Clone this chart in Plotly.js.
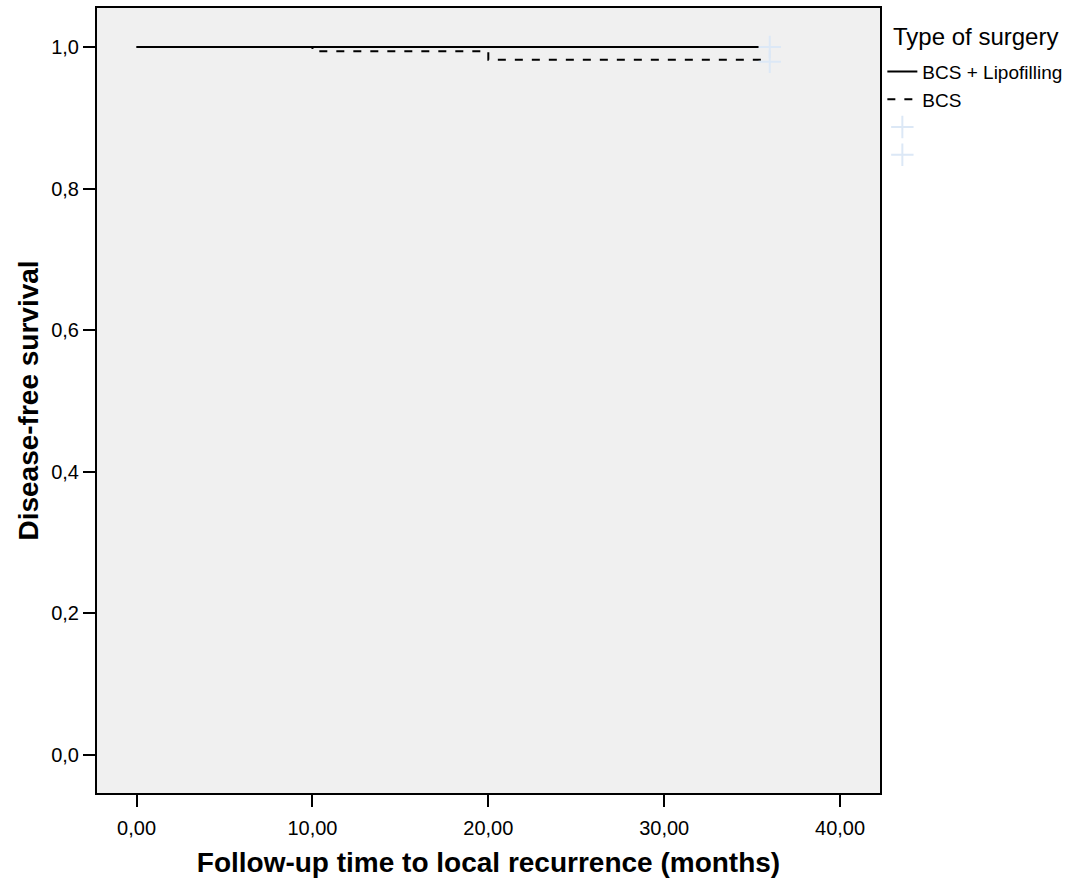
<!DOCTYPE html>
<html>
<head>
<meta charset="utf-8">
<script src="https://cdn.plot.ly/plotly-3.0.1.min.js"></script>
<style>html,body{margin:0;padding:0;background:#fff;}#chart{width:1089px;height:886px;}</style>
</head>
<body>
<div id="chart"></div>
<script>
// Kaplan-Meier data
var legendTitle = "Type of surgery";
var lipoName = "BCS + Lipofilling";
var lipoTime = [0, 35.6];
var lipoSurv = [1.0, 1.0];
var lipoCensorTime = [36.0];
var lipoCensorSurv = [1.0];

var bcsName = "BCS";
var bcsTime = [0, 10.0, 20.0, 36.0];
var bcsSurv = [1.0, 0.994, 0.982, 0.982];
var bcsCensorTime = [36.0];
var bcsCensorSurv = [0.979];

var xTicks = [0, 10, 20, 30, 40];
var yTicks = [0, 0.2, 0.4, 0.6, 0.8, 1.0];

var censorColor = '#dce8f6';
var font = 'Liberation Sans, Arial, sans-serif';

var traces = [
  {x: lipoTime, y: lipoSurv, name: lipoName, mode: 'lines', line: {shape: 'hv', color: '#000', width: 2}},
  {x: bcsTime, y: bcsSurv, name: bcsName, mode: 'lines', line: {shape: 'hv', color: '#000', width: 2, dash: '8px,9px'}},
  {x: lipoCensorTime, y: lipoCensorSurv, name: '', mode: 'markers', marker: {symbol: 'cross-thin-open', size: 16, color: censorColor, line: {color: censorColor, width: 2}}},
  {x: bcsCensorTime, y: bcsCensorSurv, name: '', mode: 'markers', marker: {symbol: 'cross-thin-open', size: 16, color: censorColor, line: {color: censorColor, width: 2}}}
];

var layout = {
  width: 1089, height: 886,
  margin: {l: 97, r: 209, t: 8, b: 93},
  paper_bgcolor: '#ffffff',
  plot_bgcolor: '#f0f0f0',
  separators: ',.',
  font: {family: font, color: '#000'},
  showlegend: true,
  legend: {
    x: 1.003, y: 0.943, xanchor: 'left', yanchor: 'top',
    bgcolor: 'rgba(0,0,0,0)', borderwidth: 0,
    font: {size: 19, family: font, color: '#000'},
    tracegroupgap: 0
  },
  annotations: [{
    text: legendTitle, xref: 'paper', yref: 'paper', x: 1.014, y: 0.964,
    xanchor: 'left', yanchor: 'middle', showarrow: false,
    font: {size: 24, family: font, color: '#000'}
  }],
  xaxis: {
    range: [-2.25, 42.27],
    tickvals: xTicks, tickformat: '.2f',
    ticks: 'outside', ticklen: 12, tickwidth: 2, tickcolor: '#000',
    ticklabelstandoff: 4,
    showline: true, linecolor: '#000', linewidth: 2, mirror: true,
    showgrid: false, zeroline: false,
    tickfont: {size: 20, family: font, color: '#000'},
    title: {text: 'Follow-up time to local recurrence (months)', font: {size: 28, family: font, color: '#000', weight: 'bold'}, standoff: 14}
  },
  yaxis: {
    range: [-0.054, 1.055],
    tickvals: yTicks, tickformat: '.1f',
    ticks: 'outside', ticklen: 12, tickwidth: 2, tickcolor: '#000',
    showline: true, linecolor: '#000', linewidth: 2, mirror: true,
    showgrid: false, zeroline: false,
    tickfont: {size: 20, family: font, color: '#000'},
    title: {text: 'Disease-free survival', font: {size: 28, family: font, color: '#000', weight: 'bold'}, standoff: 4}
  }
};

Plotly.newPlot('chart', traces, layout, {displayModeBar: false, staticPlot: true});
</script>
</body>
</html>
